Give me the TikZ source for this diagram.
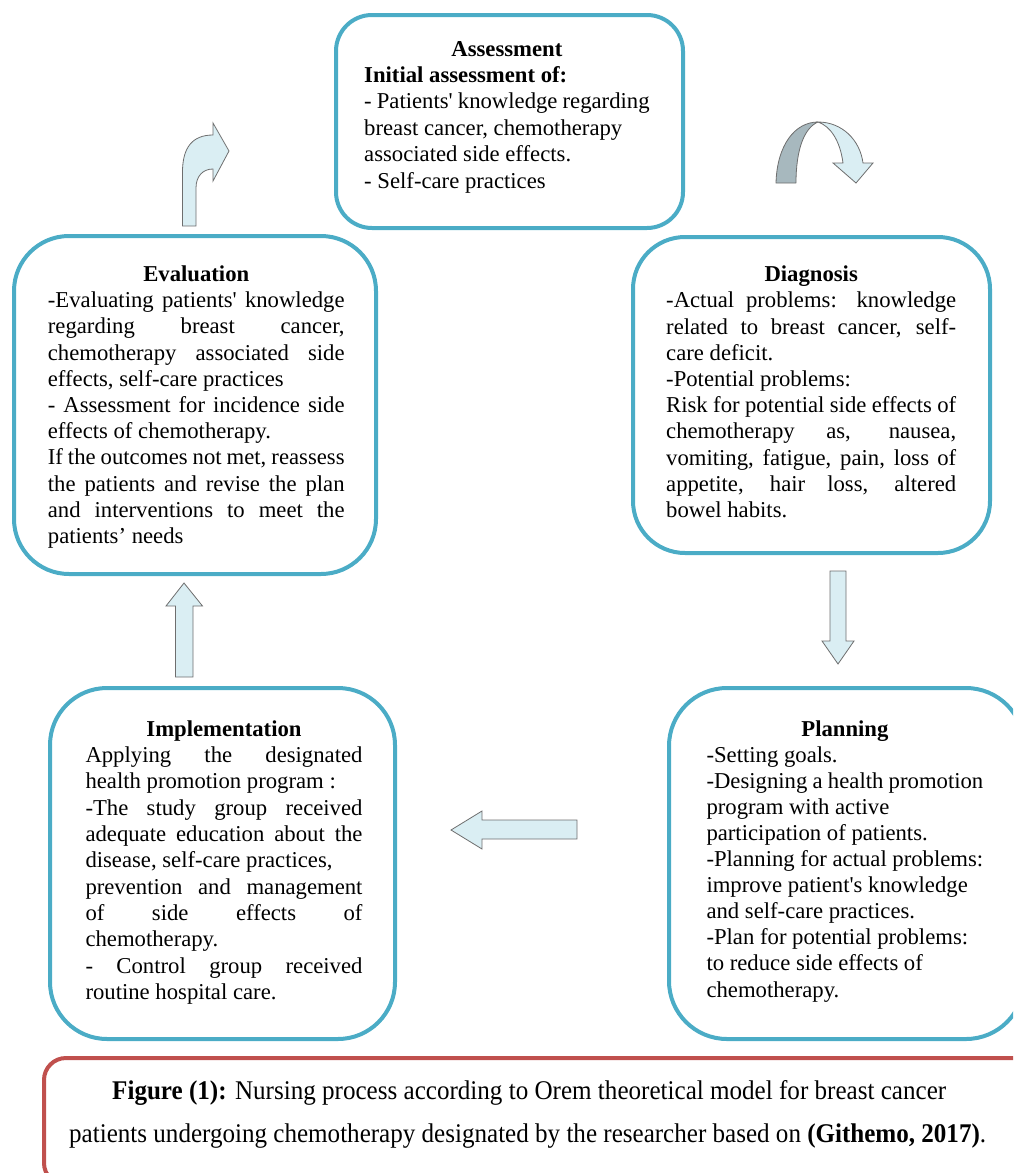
\documentclass[tikz,border=0pt]{standalone}
\usepackage{fontspec}
\setmainfont{Liberation Serif}
\usepackage{graphicx}
\definecolor{boxblue}{HTML}{4BACC6}
\definecolor{capred}{HTML}{C0504D}
\definecolor{arrfill}{HTML}{DAEEF3}
\definecolor{arrline}{HTML}{6E6E6E}
\definecolor{ribbon}{HTML}{A7B8BE}
\newcommand{\jl}[1]{\makebox[\linewidth][s]{#1}}
\newcommand{\ttl}[1]{\makebox[\linewidth]{\bfseries #1}}
\tikzset{
  cyclebox/.style={draw=boxblue, line width=4pt, rectangle, inner sep=0pt},
  capbox/.style={draw=capred, line width=4pt, rectangle, inner sep=0pt, rounded corners=22pt},
  txt/.style={anchor=base west, inner sep=0pt, font=\fontsize{22.7}{26.2}\selectfont},
  blockarrow/.style={fill=arrfill, draw=arrline, line width=0.8pt, line join=miter},
}
\begin{document}
\begin{tikzpicture}[x=1pt,y=-1pt]
\useasboundingbox (0,0) rectangle (1013,1173);
\clip (0,0) rectangle (1013,1173);

% boxes
\node[cyclebox, rounded corners=36pt, minimum width=347pt, minimum height=213pt] (assess) at (509.5,121.5) {};
\node[cyclebox, rounded corners=55pt, minimum width=362pt, minimum height=338pt] (eval) at (195,405) {};
\node[cyclebox, rounded corners=52pt, minimum width=357pt, minimum height=316pt] (diag) at (811.5,395) {};
\node[cyclebox, rounded corners=57pt, minimum width=345pt, minimum height=351pt] (impl) at (222.5,863.5) {};
\node[cyclebox, rounded corners=58pt, minimum width=355pt, minimum height=351pt] (plan) at (846.5,863.5) {};
\node[capbox, minimum width=994pt, minimum height=127pt] (capb) at (541,1121.5) {};

% texts
\node[txt] (assesst) at (364,56) {\parbox[t]{285.4pt}{\fontsize{22.7}{26.4}\selectfont\raggedright
\ttl{Assessment}\\
\textbf{Initial assessment of:}\\
- Patients\textquotesingle{} knowledge regarding\\
breast cancer, chemotherapy\\
associated side effects.\\
- Self-care practices}};

\node[txt] (evalt) at (47.7,281.5) {\parbox[t]{296.7pt}{\fontsize{22.7}{26.2}\selectfont\raggedright
\ttl{Evaluation}\\
\jl{-Evaluating patients\textquotesingle{} knowledge}\\
\jl{regarding breast cancer,}\\
\jl{chemotherapy associated side}\\
effects, self-care practices\\
\jl{- Assessment for incidence side}\\
effects of chemotherapy.\\
\jl{If the outcomes not met, reassess}\\
\jl{the patients and revise the plan}\\
\jl{and interventions to meet the}\\
patients’ needs}};

\node[txt] (diagt) at (666,281.7) {\parbox[t]{290pt}{\fontsize{22.7}{26.2}\selectfont\raggedright
\ttl{Diagnosis}\\
\jl{-Actual problems: knowledge}\\
\jl{related to breast cancer, self-}\\
care deficit.\\
-Potential problems:\\
\jl{Risk for potential side effects of}\\
\jl{chemotherapy as, nausea,}\\
\jl{vomiting, fatigue, pain, loss of}\\
\jl{appetite, hair loss, altered}\\
bowel habits.}};

\node[txt] (implt) at (85.3,736.3) {\parbox[t]{277pt}{\fontsize{22.7}{26.3}\selectfont\raggedright
\ttl{Implementation}\\
\jl{Applying the designated}\\
health promotion program :\\
\jl{-The study group received}\\
\jl{adequate education about the}\\
disease, self-care practices,\\
\jl{prevention and management}\\
\jl{of side effects of}\\
chemotherapy.\\
\jl{- Control group received}\\
routine hospital care.}};

\node[txt] (plant) at (706.3,736) {\parbox[t]{276.8pt}{\fontsize{22.7}{26.1}\selectfont\raggedright
\ttl{Planning}\\
-Setting goals.\\
-Designing a health promotion\\
program with active\\
participation of patients.\\
-Planning for actual problems:\\
improve patient\textquotesingle{}s knowledge\\
and self-care practices.\\
-Plan for potential problems:\\
to reduce side effects of\\
chemotherapy.}};

\node[anchor=base west, inner sep=0pt] (cap1) at (112,1099) {\resizebox{834pt}{\height}{\fontsize{27}{30}\selectfont\textbf{Figure (1):} Nursing process according to Orem theoretical model for breast cancer}};
\node[anchor=base west, inner sep=0pt] (cap2) at (69,1142) {\resizebox{917pt}{\height}{\fontsize{27}{30}\selectfont patients undergoing chemotherapy designated by the researcher based on \textbf{(Githemo, 2017)}.}};

% straight block arrows
\draw[blockarrow] (830,571) -- (846,571) -- (846,641) -- (854,641) -- (838,664) -- (822,641) -- (830,641) -- cycle;
\draw[blockarrow] (577,820) -- (482,820) -- (482,811) -- (451,830) -- (482,849) -- (482,839) -- (577,839) -- cycle;
\draw[blockarrow] (175.5,677) -- (175.5,606) -- (166,606) -- (184,583) -- (202.5,606) -- (193,606) -- (193,677) -- cycle;

% bent arrow above Evaluation
\draw[blockarrow] (182.5,226) -- (182.5,172) .. controls (182.5,148) and (192,135) .. (213,135)
  -- (213,123) -- (229,151) -- (213,181) -- (213,169)
  .. controls (203,169) and (196,176) .. (196,188) -- (196,226) -- cycle;

% curved arrow between Assessment and Diagnosis
\draw[fill=ribbon, draw=arrline, line width=0.8pt, line join=round] (776,183) .. controls (777,145) and (795,122) .. (818,122)
  .. controls (804,128) and (796,150) .. (796,183) -- cycle;
\draw[blockarrow] (818,122) .. controls (842,122) and (860,140) .. (863,163)
  -- (873,163) -- (856,183) -- (833,163) -- (843,163)
  .. controls (840,140) and (830,126) .. (818,122) -- cycle;
\end{tikzpicture}
\end{document}
